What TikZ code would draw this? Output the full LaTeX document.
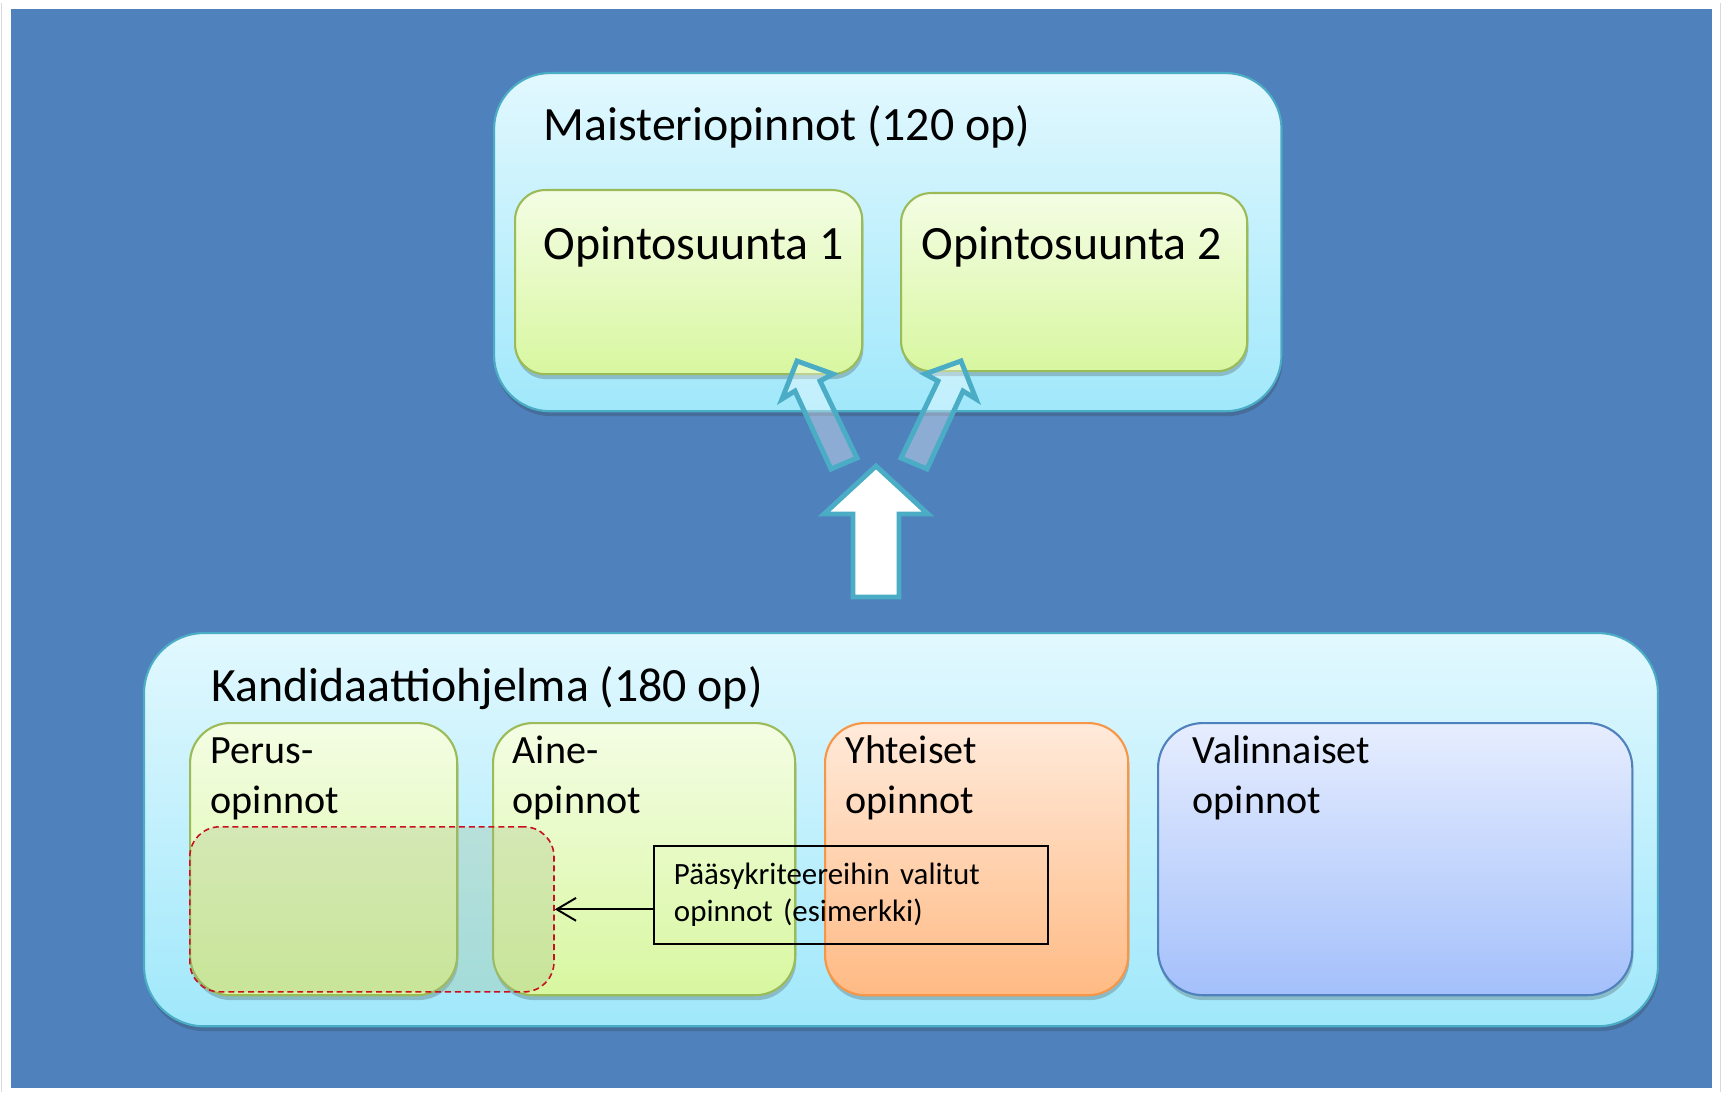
\documentclass[tikz,border=0pt]{standalone}
\usepackage{fontspec}
\setmainfont{Carlito}
\usetikzlibrary{arrows.meta,shadows}
\definecolor{bgblue}{RGB}{79,129,189}
\definecolor{teal}{RGB}{75,172,198}
\definecolor{bigtop}{RGB}{226,248,254}
\definecolor{bigbot}{RGB}{160,232,251}
\definecolor{grtop}{RGB}{244,253,228}
\definecolor{grbot}{RGB}{216,247,160}
\definecolor{grline}{RGB}{155,187,89}
\definecolor{ortop}{RGB}{255,234,218}
\definecolor{orbot}{RGB}{255,186,132}
\definecolor{orline}{RGB}{247,150,70}
\definecolor{bltop}{RGB}{230,237,254}
\definecolor{blbot}{RGB}{164,192,251}
\definecolor{blline}{RGB}{79,129,189}
\definecolor{dashred}{RGB}{200,16,30}
\definecolor{dashfill}{RGB}{160,185,130}
\tikzset{
  shd/.style={drop shadow={shadow xshift=0.3pt,shadow yshift=-1.4pt,opacity=0.25,fill=black!80}},
  boxbase/.style={rectangle,anchor=north west,inner sep=0pt,line width=0.6pt,shd},
  bigbox/.style={boxbase,rounded corners=0.56cm,draw=teal,top color=bigtop,bottom color=bigbot},
  greenbox/.style={boxbase,draw=grline,top color=grtop,bottom color=grbot},
  orangebox/.style={boxbase,draw=orline,top color=ortop,bottom color=orbot},
  bluebox/.style={boxbase,draw=blline,top color=bltop,bottom color=blbot},
  bigtitle/.style={anchor=base west,inner sep=0pt,font=\fontsize{13.6}{16}\selectfont},
  smalltitle/.style={anchor=base west,inner sep=0pt,align=left,font=\fontsize{11.4}{14.2}\selectfont},
  thinarrow/.style={draw=teal,line width=1.4pt,fill=white,fill opacity=0.35,line join=miter},
  fatarrow/.style={draw=teal,line width=1.4pt,fill=white,line join=miter},
}
\begin{document}
\begin{tikzpicture}[x=0.01cm,y=0.01cm]
\useasboundingbox (0,0) rectangle (1723,-1094);
\fill[white] (0,0) rectangle (1723,-1094);
\draw[black!15,line width=0.5pt] (1.5,-3) -- (1.5,-1092) (1720.5,-3) -- (1720.5,-1092);
\fill[bgblue] (11,-9) rectangle (1712,-1088);

% master's box
\node[bigbox,minimum width=7.87cm,minimum height=3.38cm] (master) at (493,-72) {};
\node[bigtitle] (mastertitle) at (543,-141) {Maisteriopinnot (120 op)};
\node[greenbox,rounded corners=0.3cm,minimum width=3.47cm,minimum height=1.84cm] (os1) at (514,-189) {};
\node[greenbox,rounded corners=0.3cm,minimum width=3.46cm,minimum height=1.78cm] (os2) at (900,-192) {};
\node[bigtitle] (os1t) at (543,-260) {Opintosuunta 1};
\node[bigtitle] (os2t) at (921,-260) {Opintosuunta 2};

% tilted arrows
\draw[thinarrow] (797,-361) -- (833,-374) -- (820,-381) -- (857,-458) -- (831,-469) -- (795,-391) -- (782,-399) -- cycle;
\draw[thinarrow] (961,-361) -- (925,-374) -- (938,-381) -- (901,-458) -- (927,-469) -- (963,-391) -- (976,-399) -- cycle;

% big arrow
\draw[fatarrow] (876,-466) -- (928,-514) -- (899,-514) -- (899,-597) -- (853,-597) -- (853,-514) -- (824,-514) -- cycle;

% bachelor's box
\node[bigbox,rounded corners=0.6cm,minimum width=15.13cm,minimum height=3.93cm] (bach) at (143,-632) {};
\node[bigtitle] (bacht) at (211,-701) {Kandidaattiohjelma (180 op)};

\node[greenbox,rounded corners=0.4cm,minimum width=2.67cm,minimum height=2.72cm] (perus) at (189,-722) {};
\node[greenbox,rounded corners=0.4cm,minimum width=3.02cm,minimum height=2.72cm] (aine) at (492,-722) {};
\node[orangebox,rounded corners=0.4cm,minimum width=3.03cm,minimum height=2.72cm] (yht) at (824,-722) {};
\node[bluebox,rounded corners=0.45cm,minimum width=4.74cm,minimum height=2.72cm] (val) at (1157,-722) {};

\node[smalltitle] (perust) at (210,-813) {Perus-\\opinnot};
\node[smalltitle] (ainet) at (512,-813) {Aine-\\opinnot};
\node[smalltitle] (yhtt) at (845,-813) {Yhteiset\\opinnot};
\node[smalltitle] (valt) at (1192,-813) {Valinnaiset\\opinnot};

% selected studies
\node[rectangle,anchor=north west,inner sep=0pt,rounded corners=0.3cm,draw=dashred,line width=0.45pt,dash pattern=on 1.7pt off 1.1pt,fill=dashfill,fill opacity=0.28,minimum width=3.64cm,minimum height=1.65cm] (sel) at (189,-826) {};

\node[rectangle,anchor=north west,draw=black,line width=0.55pt,inner xsep=0.2cm,inner ysep=0pt,text width=3.54cm,align=left,minimum height=0.98cm,font=\fontsize{8.8}{10.5}\selectfont] (callout) at (653,-845) {\mbox{Pääsykriteereihin valitut}\\\mbox{opinnot (esimerkki)}};

\draw[-{Straight Barb[length=5.5pt,width=6.5pt]},line width=0.55pt] (sel.east -| callout.west) -- (sel.east);
\end{tikzpicture}
\end{document}
